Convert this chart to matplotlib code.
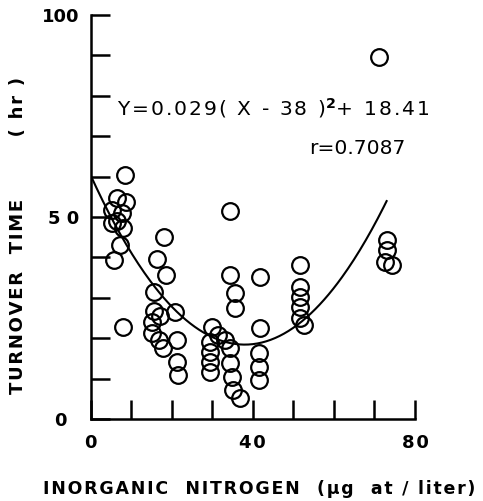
import numpy as np
import matplotlib
matplotlib.use('Agg')
import matplotlib.pyplot as plt

# inorganic nitrogen (ug at / liter) and turnover time (hr)
nitrogen = [8.5, 6.4, 8.7, 5.3, 7.7, 5.3, 8.0, 6.5, 7.2, 5.8, 8.0,
            18.2, 16.4, 18.6, 15.6, 15.5, 15.1, 17.0, 15.1, 16.9, 17.9, 20.8, 21.2, 21.2, 21.6,
            29.9, 31.5, 29.5, 29.5, 29.5, 29.5, 34.4, 34.4, 35.6, 35.6, 33.2, 34.4, 34.4, 34.8, 35.2, 36.9,
            41.8, 41.8, 41.4, 41.4, 41.4,
            51.7, 51.7, 51.7, 51.7, 51.7, 52.5,
            73.1, 73.1, 72.7, 74.3,
            71.0]
turnover = [60.4, 54.6, 53.7, 51.7, 51.0, 48.5, 47.3, 49.0, 43.1, 39.4, 22.8,
            45.1, 39.5, 35.6, 31.5, 26.8, 24.1, 25.5, 21.2, 19.6, 17.5, 26.6, 19.6, 14.2, 10.9,
            22.8, 20.8, 19.1, 16.7, 14.2, 11.7, 51.5, 35.6, 31.1, 27.4, 19.6, 17.5, 13.8, 10.5, 7.2, 5.1,
            35.2, 22.5, 16.3, 12.9, 9.7,
            38.1, 32.7, 30.3, 27.8, 24.9, 23.3,
            44.3, 41.8, 38.9, 38.1,
            89.7]

# fitted parabola Y = a (X - x0)^2 + c
a, x0, c = 0.029, 38, 18.41
r_value = 0.7087


def spaced(s, gap='\u200a'):
    # letter-spaced text, like the old stencil lettering
    return gap.join(s)


plt.rcParams['font.family'] = 'DejaVu Sans'
plt.rcParams['font.weight'] = 'bold'

fig = plt.figure(figsize=(4.83, 5.01), dpi=100)
ax = fig.add_axes([0.1878, 0.1637, 0.6714, 0.8064])

xfit = np.linspace(0, 73, 200)
yfit = a * (xfit - x0) ** 2 + c
ax.plot(xfit, yfit, color='black', lw=1.5)

ax.plot(nitrogen, turnover, 'o', ms=12, mfc='none', mec='black', mew=1.6, clip_on=False)

ax.set_xlim(0, 80)
ax.set_ylim(0, 100)
for s in ['top', 'right']:
    ax.spines[s].set_visible(False)
for s in ['left', 'bottom']:
    ax.spines[s].set_linewidth(1.8)

ax.set_xticks(np.arange(0, 81, 10))
ax.set_xticklabels(['0', '', '', '', spaced('40'), '', '', '', spaced('80')])
ax.set_yticks(np.arange(0, 101, 10))
ax.set_yticklabels(['0  ', '', '', '', '', '5 0', '', '', '', '', '100'])
ax.tick_params(direction='in', length=13.5, width=1.8, labelsize=13)
ax.tick_params(axis='x', pad=11)
ax.tick_params(axis='y', pad=8)

ax.set_xlabel(spaced('INORGANIC  NITROGEN  (\u00b5g  at / liter)'), fontsize=12.5, fontweight='bold')
ax.set_ylabel(spaced('TURNOVER  TIME') + '          ' + spaced('( hr )'), fontsize=13, fontweight='bold')
ax.xaxis.set_label_coords(0.52, -0.15)
ax.yaxis.set_label_coords(-0.197, 0.455)

eq = spaced('Y=0.029( X - 38 )') + '$^2$' + spaced('+ 18.41')
ax.text(6.5, 77, eq, fontsize=14.6, fontweight='normal', va='center')
ax.text(53.8, 67, 'r=%.4f' % r_value, fontsize=14.6, fontweight='normal', va='center')

fig.savefig('out.png', dpi=100)
